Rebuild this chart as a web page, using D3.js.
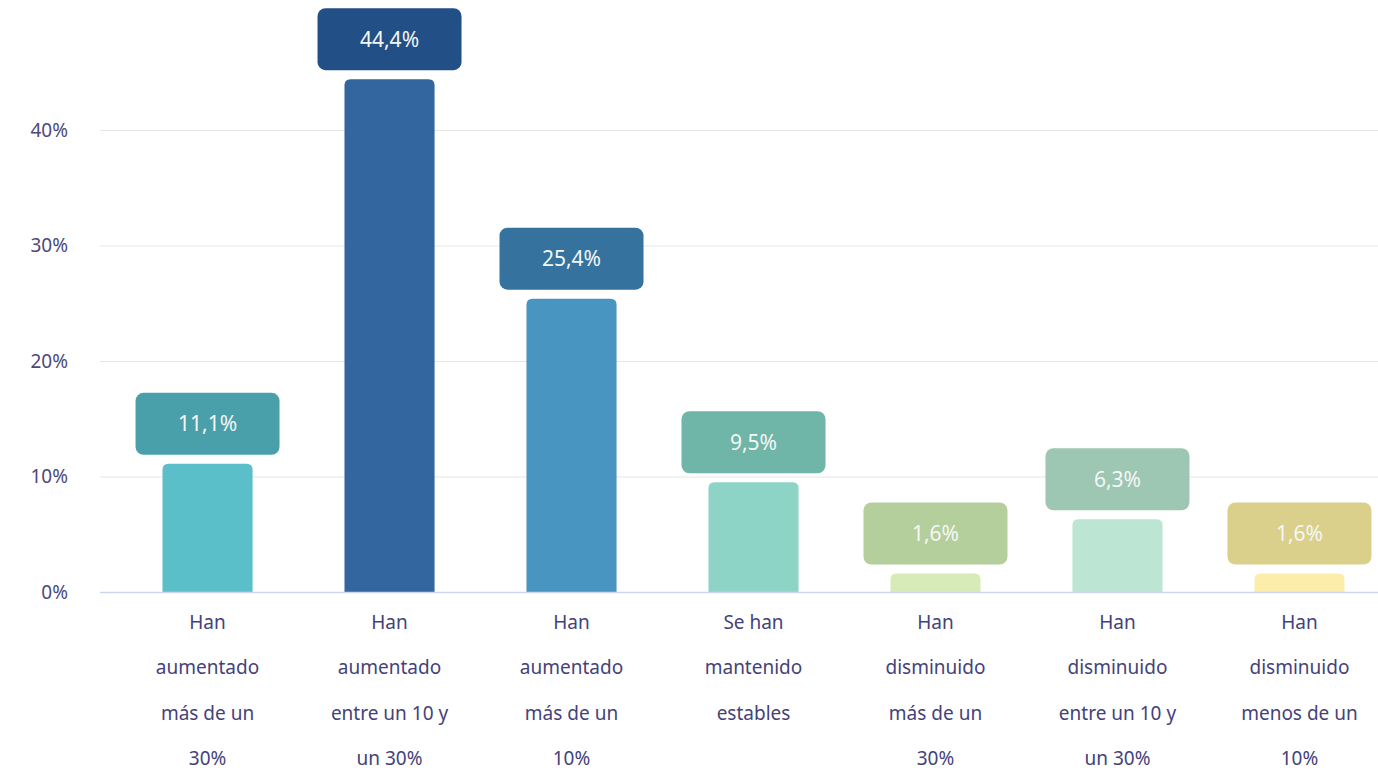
<!DOCTYPE html>
<html>
<head>
<meta charset="utf-8">
<script src="https://cdn.jsdelivr.net/npm/d3@7"></script>
<style>
  body { margin: 0; background: #fff; }
  text { font-family: "Noto Sans", "Open Sans", sans-serif; }
</style>
</head>
<body>
<script>
// categories, values and colours
var categories = [
	["Han", "aumentado", "más de un", "30%"],
	["Han", "aumentado", "entre un 10 y", "un 30%"],
	["Han", "aumentado", "más de un", "10%"],
	["Se han", "mantenido", "estables"],
	["Han", "disminuido", "más de un", "30%"],
	["Han", "disminuido", "entre un 10 y", "un 30%"],
	["Han", "disminuido", "menos de un", "10%"]
];
var values = [11.1, 44.4, 25.4, 9.5, 1.6, 6.3, 1.6];
var barColors = ["#5bbfca", "#33669f", "#4795c0", "#8dd4c7", "#d7ebb8", "#bce5d3", "#fcedaa"];
var boxColors = ["#4aa0aa", "#234f87", "#35739e", "#6fb5a8", "#b4ce9c", "#9dc6b3", "#dad08b"];
var yTicks = [0, 10, 20, 30, 40];

var totalWidth = 1378,
	totalHeight = 772,
	margin = {top: 0, left: 100},
	zeroY = 592,
	axisColor = "#44427a";

var svg = d3.select("body").append("svg")
	.attr("width", totalWidth)
	.attr("height", totalHeight);

var yScale = d3.scaleLinear()
	.domain([0, 40])
	.range([zeroY, 130]);

var xScale = d3.scaleBand()
	.domain(d3.range(values.length))
	.range([117, 1390])
	.paddingInner(0.505)
	.paddingOuter(0.25);

// gridlines
svg.append("g")
	.selectAll("line")
	.data(yTicks.filter(d => d > 0))
	.enter().append("line")
	.attr("x1", margin.left)
	.attr("x2", totalWidth)
	.attr("y1", d => yScale(d) + 0.5)
	.attr("y2", d => yScale(d) + 0.5)
	.style("stroke", "#e6e6e6")
	.style("stroke-width", 1);

// y axis labels
var yAxis = d3.axisLeft(yScale)
	.tickValues(yTicks)
	.tickSize(0)
	.tickPadding(0)
	.tickFormat(d => d + "%");

svg.append("g")
	.attr("transform", "translate(68,0)")
	.call(yAxis)
	.call(g => g.select(".domain").remove())
	.selectAll("text")
	.style("font-size", "19px")
	.style("fill", "#4b4979")
	.style("font-family", "'Noto Sans', sans-serif");

// bars with rounded tops
function topRounded(x, y, w, h, r) {
	r = Math.min(r, h);
	return "M" + x + "," + (y + h) +
		"V" + (y + r) +
		"Q" + x + "," + y + " " + (x + r) + "," + y +
		"H" + (x + w - r) +
		"Q" + (x + w) + "," + y + " " + (x + w) + "," + (y + r) +
		"V" + (y + h) + "Z";
}

var bw = xScale.bandwidth();

svg.append("g")
	.selectAll("path")
	.data(values)
	.enter().append("path")
	.attr("d", (d, i) => topRounded(xScale(i), yScale(d), bw, zeroY - yScale(d), 6))
	.style("fill", (d, i) => barColors[i]);

// baseline
svg.append("line")
	.attr("x1", margin.left)
	.attr("x2", totalWidth)
	.attr("y1", zeroY + 0.5)
	.attr("y2", zeroY + 0.5)
	.style("stroke", "#ccd6eb")
	.style("stroke-width", 1.5);

// value label boxes
var boxW = 144, boxH = 62, gap = 9;
var labels = svg.append("g")
	.selectAll("g")
	.data(values)
	.enter().append("g")
	.attr("transform", (d, i) => "translate(" + (xScale(i) + bw / 2) + "," + (yScale(d) - gap - boxH) + ")");

labels.append("rect")
	.attr("x", -boxW / 2)
	.attr("y", 0)
	.attr("width", boxW)
	.attr("height", boxH)
	.attr("rx", 8)
	.style("fill", (d, i) => boxColors[i]);

labels.append("text")
	.attr("x", 0)
	.attr("y", boxH / 2)
	.attr("dy", "0.36em")
	.attr("text-anchor", "middle")
	.style("font-size", "21px")
	.style("fill", "#f4f7f6")
	.text(d => d3.format(".1f")(d).replace(".", ",") + "%");

// category labels
var cats = svg.append("g")
	.selectAll("text")
	.data(categories)
	.enter().append("text")
	.attr("text-anchor", "middle")
	.style("font-size", "19px")
	.style("fill", axisColor);

cats.selectAll("tspan")
	.data((d, i) => d.map(line => ({line: line, i: i})))
	.enter().append("tspan")
	.attr("x", d => xScale(d.i) + bw / 2)
	.attr("y", (d, j) => 629 + j * 45.3)
	.text(d => d.line);
</script>
</body>
</html>
